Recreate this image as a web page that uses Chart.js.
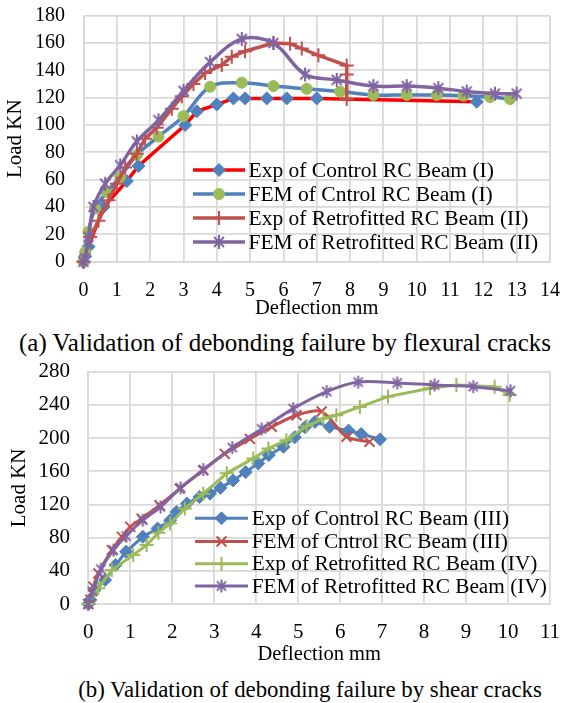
<!DOCTYPE html>
<html>
<head>
<meta charset="utf-8">
<script src="https://cdn.jsdelivr.net/npm/chart.js@4.4.1/dist/chart.umd.min.js"></script>
<style>
  html, body { margin:0; padding:0; background:#fff; }
  body { width:562px; height:703px; position:relative; overflow:hidden; font-family:'Times New Roman','Liberation Serif',serif; }
  .wrap { position:absolute; left:0; }
  .cap { position:absolute; white-space:nowrap; transform:translateX(-50%); color:#000; }
</style>
</head>
<body>
<div class="wrap" style="top:0;width:562px;height:324px"><canvas id="c1" width="562" height="324"></canvas></div>
<div class="cap" id="capA" style="left:285px;top:328px;font-size:25px;line-height:30px">(a) Validation of debonding failure by flexural cracks</div>
<div class="wrap" style="top:355px;width:562px;height:312px"><canvas id="c2" width="562" height="312"></canvas></div>
<div class="cap" id="capB" style="left:310px;top:676px;font-size:22.8px;line-height:27px">(b) Validation of debonding failure by shear cracks</div>
<script>
// ---------- Chart (a) data ----------
const a_names = ['Exp of Control RC Beam (I)', 'FEM of Cntrol RC Beam (I)', 'Exp of Retrofitted RC Beam (II)', 'FEM of Retrofitted RC Beam (II)'];
const a_expCtrl_x = [0, 0.05, 0.15, 0.6, 1.3, 1.65, 3.05, 3.4, 4.0, 4.5, 4.85, 5.5, 6.1, 7.0, 11.8];
const a_expCtrl_y = [0, 4, 11, 40, 59, 70, 100, 110, 115, 119.5, 119.5, 119.5, 119.5, 119.5, 117];
const a_femCtrl_x = [0, 0.05, 0.15, 0.35, 0.7, 1.1, 1.6, 2.25, 3.0, 3.8, 4.75, 5.7, 6.7, 7.7, 8.7, 9.7, 10.6, 11.4, 12.2, 12.8];
const a_femCtrl_y = [0, 7, 22, 39, 51, 62, 78, 91.5, 106.5, 128, 131, 128.5, 126.5, 124.5, 122, 122, 122, 121.5, 120.5, 119];
const a_expRet_x = [0, 0.2, 0.45, 0.75, 1.0, 1.25, 1.6, 1.85, 2.2, 2.65, 2.95, 3.3, 3.65, 4.15, 4.45, 4.85, 5.7, 6.2, 6.55, 7.05, 7.9, 7.9, 7.9];
const a_expRet_y = [0, 18, 30, 45, 57, 69, 79, 90, 98, 112, 121, 130, 138, 144, 150, 154, 160, 159.5, 156, 151, 143.5, 137, 119];
const a_femRet_x = [0, 0.05, 0.15, 0.3, 0.65, 1.1, 1.6, 2.25, 3.0, 3.8, 4.75, 5.7, 6.65, 7.6, 8.7, 9.7, 10.65, 11.5, 12.35, 13.0];
const a_femRet_y = [0, 2.5, 18, 40, 57, 70.5, 88, 103.5, 125, 146, 163, 160, 137, 133, 128.5, 128.5, 127, 124.5, 123, 123];
const a_xTicks = [0, 14, 1];   // min, max, step
const a_yTicks = [0, 180, 20];

// ---------- Chart (b) data ----------
const b_names = ['Exp of Control RC Beam (III)', 'FEM of Cntrol RC Beam (III)', 'Exp of Retrofitted RC Beam (IV)', 'FEM of Retrofitted RC Beam (IV)'];
const b_expCtrl_x = [0, 0.05, 0.15, 0.4, 0.65, 0.9, 1.3, 1.65, 1.95, 2.1, 2.35, 2.65, 2.9, 3.15, 3.45, 3.75, 4.05, 4.3, 4.65, 4.92, 5.16, 5.4, 5.75, 6.2, 6.5, 6.95];
const b_expCtrl_y = [0, 5, 17, 29, 47, 63, 81, 91, 101, 111, 121, 129, 133, 140, 149, 159, 169.5, 179.5, 189.5, 201, 213, 219.5, 213.5, 209, 205, 198.5];
const b_femCtrl_x = [0, 0.05, 0.12, 0.24, 0.56, 0.8, 1.0, 1.27, 1.7, 2.18, 2.74, 3.25, 3.85, 4.37, 4.96, 5.56, 6.15, 6.7];
const b_femCtrl_y = [0, 5, 21, 37, 65, 81, 93, 103, 119, 139, 161, 181, 199, 213.5, 227.5, 232, 201.5, 195.5];
const b_expRet_x = [0, 0.24, 0.56, 1.07, 1.39, 1.67, 1.95, 2.3, 2.74, 3.3, 3.93, 4.29, 4.72, 5.2, 5.6, 5.91, 6.47, 7.14, 8.14, 8.77, 9.68, 10.04];
const b_expRet_y = [0, 19, 41, 59, 71, 86, 97, 115, 133, 157.5, 175.5, 187.5, 197.5, 214.5, 223.5, 227.5, 237.5, 250, 260, 264, 262, 252];
const b_femRet_x = [0, 0.1, 0.3, 0.6, 0.9, 1.3, 1.72, 2.2, 2.74, 3.43, 4.13, 4.88, 5.68, 6.43, 7.36, 8.25, 9.17, 10.06];
const b_femRet_y = [0, 15, 42, 65, 82, 101, 117, 140, 162, 188.5, 211, 235.5, 256, 267.5, 266.5, 264, 262, 257];
const b_xTicks = [0, 11, 1];
const b_yTicks = [0, 280, 40];

// ---------- styling ----------
const FONT = "'Times New Roman','Liberation Serif',serif";
Chart.defaults.font.family = FONT;
Chart.defaults.color = '#000';
const BLUE = '#4F81BD', RED = '#C0504D', GREEN = '#9BBB59', PURPLE = '#8064A2', PURE_RED = '#FF0000';
const GRID = '#D9D9D9';

function starImg(color, r, lw) {
  const s = Math.ceil(2 * r + lw + 2);
  const c = document.createElement('canvas');
  c.width = s; c.height = s;
  const g = c.getContext('2d');
  g.strokeStyle = color; g.lineWidth = lw;
  const m = s / 2, d = r * Math.SQRT1_2;
  g.beginPath();
  g.moveTo(m, m - r); g.lineTo(m, m + r);
  g.moveTo(m - d, m - d); g.lineTo(m + d, m + d);
  g.moveTo(m + d, m - d); g.lineTo(m - d, m + d);
  g.stroke();
  return c;
}

function pts(xs, ys) { return xs.map((x, i) => ({ x: x, y: ys[i] })); }

function ds(label, xs, ys, line, lw, style, r, fill, stroke, bw, tension, order) {
  return {
    label: label, data: pts(xs, ys), borderColor: line, borderWidth: lw,
    pointStyle: style, pointRadius: r, pointHoverRadius: r,
    pointBackgroundColor: fill, pointBorderColor: stroke, pointBorderWidth: bw,
    tension: tension, fill: false, clip: false, order: order
  };
}

function drawMarker(ctx, d, x, y) {
  const style = d.pointStyle;
  ctx.save();
  if (style instanceof HTMLCanvasElement) {
    ctx.drawImage(style, x - style.width / 2, y - style.height / 2);
    ctx.restore();
    return;
  }
  const r = d.pointRadius;
  ctx.fillStyle = d.pointBackgroundColor;
  ctx.strokeStyle = d.pointBorderColor;
  ctx.lineWidth = d.pointBorderWidth;
  ctx.beginPath();
  if (style === 'rectRot') {
    ctx.moveTo(x - r, y); ctx.lineTo(x, y - r); ctx.lineTo(x + r, y); ctx.lineTo(x, y + r); ctx.closePath();
    ctx.fill(); ctx.stroke();
  } else if (style === 'circle') {
    ctx.arc(x, y, r, 0, Math.PI * 2); ctx.fill(); ctx.stroke();
  } else if (style === 'cross') {
    ctx.moveTo(x, y - r); ctx.lineTo(x, y + r); ctx.moveTo(x - r, y); ctx.lineTo(x + r, y); ctx.stroke();
  } else if (style === 'crossRot') {
    const k = r * Math.SQRT1_2;
    ctx.moveTo(x - k, y - k); ctx.lineTo(x + k, y + k); ctx.moveTo(x + k, y - k); ctx.lineTo(x - k, y + k); ctx.stroke();
  }
  ctx.restore();
}

function legendPlugin(cfg) {
  return {
    id: 'innerLegend',
    afterDatasetsDraw(chart) {
      const ctx = chart.ctx;
      chart.data.datasets.forEach((d, i) => {
        const y = cfg.rows[i];
        ctx.save();
        ctx.strokeStyle = d.borderColor;
        ctx.lineWidth = d.borderWidth;
        ctx.beginPath(); ctx.moveTo(cfg.x0, y); ctx.lineTo(cfg.x1, y); ctx.stroke();
        ctx.restore();
        drawMarker(ctx, d, (cfg.x0 + cfg.x1) / 2, y);
        ctx.save();
        ctx.fillStyle = '#000';
        ctx.font = cfg.font + 'px ' + FONT;
        ctx.textBaseline = 'middle';
        ctx.textAlign = 'left';
        ctx.fillText(d.label, cfg.xt, y + cfg.dy);
        ctx.restore();
      });
    }
  };
}

function zeroPad(s) { s.paddingTop = 0; s.paddingBottom = 0; s.paddingLeft = 0; s.paddingRight = 0; }

function makeChart(id, datasets, xT, yT, g, legendCfg) {
  return new Chart(document.getElementById(id), {
    type: 'line',
    data: { datasets: datasets },
    options: {
      responsive: false, animation: false, events: [],
      layout: { padding: g.pad, autoPadding: false },
      plugins: { legend: { display: false }, tooltip: { enabled: false } },
      scales: {
        x: {
          type: 'linear', min: xT[0], max: xT[1],
          ticks: { stepSize: xT[2], font: { size: g.tickFont }, color: '#000', padding: g.xTickPad, maxRotation: 0, autoSkip: false },
          grid: { color: GRID, lineWidth: 1.8, drawTicks: false },
          border: { color: GRID, width: 1.8 },
          title: { display: true, text: 'Deflection mm', font: { size: g.titleFont }, color: '#000', padding: { top: 0, bottom: g.xTitlePad } },
          afterFit(s) { s.height = g.xH; zeroPad(s); }
        },
        y: {
          type: 'linear', min: yT[0], max: yT[1],
          ticks: { stepSize: yT[2], font: { size: g.tickFont }, color: '#000', padding: g.yTickPad, autoSkip: false },
          grid: { color: GRID, lineWidth: 1.8, drawTicks: false },
          border: { color: GRID, width: 1.8 },
          title: { display: true, text: 'Load KN', font: { size: g.yTitleFont }, color: '#000', padding: { top: g.yTitlePad, bottom: 0 } },
          afterFit(s) { s.width = g.yW; zeroPad(s); }
        }
      }
    },
    plugins: [legendPlugin(legendCfg)]
  });
}

// Chart (a)
const aStar = starImg(PURPLE, 7, 2);
makeChart('c1', [
  ds(a_names[0], a_expCtrl_x, a_expCtrl_y, PURE_RED, 3.5, 'rectRot', 6.5, BLUE, BLUE, 1, 0, 4),
  ds(a_names[1], a_femCtrl_x, a_femCtrl_y, BLUE, 3.5, 'circle', 5.5, GREEN, GREEN, 1, 0.35, 3),
  ds(a_names[2], a_expRet_x, a_expRet_y, RED, 3.5, 'cross', 7, RED, RED, 2, 0, 2),
  ds(a_names[3], a_femRet_x, a_femRet_y, PURPLE, 3.5, aStar, 7, PURPLE, PURPLE, 2, 0.35, 1)
], a_xTicks, a_yTicks, {
  pad: { top: 15.7, right: 12, bottom: 0, left: 0 },
  tickFont: 20, titleFont: 20.5, yTitleFont: 21,
  xTickPad: 17, xTitlePad: 2.7, xH: 62.3,
  yTickPad: 18.5, yTitlePad: 2.9, yW: 83.5
}, { x0: 193, x1: 245, xt: 248.5, rows: [170, 194, 218, 242], font: 21.5, dy: 1 });

// Chart (b)
const bStar = starImg(PURPLE, 6.5, 2);
makeChart('c2', [
  ds(b_names[0], b_expCtrl_x, b_expCtrl_y, BLUE, 3, 'rectRot', 6.5, BLUE, BLUE, 1, 0, 4),
  ds(b_names[1], b_femCtrl_x, b_femCtrl_y, RED, 3, 'crossRot', 7, RED, RED, 2, 0.3, 3),
  ds(b_names[2], b_expRet_x, b_expRet_y, GREEN, 3, 'cross', 7, GREEN, GREEN, 2, 0, 2),
  ds(b_names[3], b_femRet_x, b_femRet_y, PURPLE, 3, bStar, 6.5, PURPLE, PURPLE, 2, 0.3, 1)
], b_xTicks, b_yTicks, {
  pad: { top: 16.7, right: 12, bottom: 0, left: 0 },
  tickFont: 21, titleFont: 20.5, yTitleFont: 21,
  xTickPad: 15.4, xTitlePad: 0, xH: 63,
  yTickPad: 18.3, yTitlePad: 6.4, yW: 88.3
}, { x0: 195, x1: 248, xt: 251.7, rows: [163.3, 186.5, 208.7, 231], font: 21.3, dy: 1 });
</script>
</body>
</html>
